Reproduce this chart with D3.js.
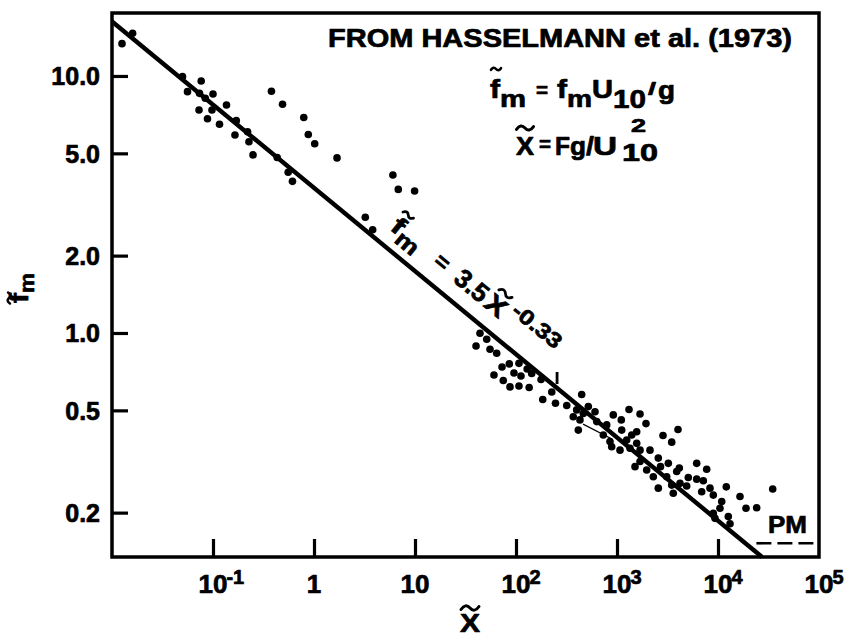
<!DOCTYPE html>
<html><head><meta charset="utf-8">
<script src="https://cdn.jsdelivr.net/npm/d3@7"></script>
<style>
body{margin:0;background:#fff;}
svg{display:block;}
text{font-family:"Liberation Sans",Arial,Helvetica,sans-serif;font-weight:bold;fill:#000;stroke:#000;stroke-width:0.7px;stroke-linejoin:round;}
</style></head><body>
<svg id="c" width="850" height="639"></svg>
<script>
// ---------------- data ----------------
const fetchX = [0.0160,0.01256,0.0499,0.0764,0.0559,0.0735,0.100,0.0839,0.136,0.0727,0.0977,0.0882,0.116,0.170,0.165,0.220,0.227,0.249,0.432,0.555,0.612,
 0.379,0.488,0.792,0.878,1.016,1.69,6.04,6.83,9.91,3.22,3.81,
 44.0,51.3,40.2,55.3,64.4,72.7,85.8,107,95.5,112,129,143,60.5,74.8,87.2,107,135,177,226,184,246,318,447,399,464,
 369,430,414,520,606,630,791,919,1103,1315,1690,1937,732,852,886,1113,1247,1398,1567,1071,1345,1567,1690,2122,1690,1508,1968,2564,2696,2854,3480,4018,3221,2288,2564,3480,3608,3105,3899,
 4139,6152,7727,5081,6152,7154,4206,4898,6896,8333,8985,12080,10880,10460,16510,18930,24150,34800,8985,9339,12650,13150];
const peakFreq = [14.66,13.36,9.94,9.56,8.69,8.56,8.51,8.19,7.71,7.37,7.37,6.82,6.49,6.70,5.89,6.07,5.55,4.93,4.82,4.22,3.89,
 8.72,7.76,6.89,5.92,5.45,4.80,4.12,3.62,3.57,2.82,2.52,
 0.997,0.945,0.890,0.864,0.834,0.737,0.758,0.762,0.699,0.680,0.724,0.696,0.686,0.653,0.617,0.622,0.614,0.659,0.589,0.551,0.533,0.522,0.576,0.502,0.486,
 0.472,0.459,0.419,0.517,0.494,0.452,0.439,0.480,0.459,0.504,0.484,0.444,0.401,0.378,0.361,0.419,0.383,0.401,0.413,0.350,0.356,0.372,0.350,0.350,0.316,0.302,0.293,0.326,0.302,0.399,0.376,0.421,0.311,0.276,0.249,0.256,0.238,0.276,0.289,
 0.298,0.311,0.295,0.274,0.270,0.266,0.260,0.254,0.241,0.249,0.234,0.252,0.221,0.208,0.231,0.208,0.209,0.247,0.199,0.190,0.193,0.181];
const fitLineX = [0.01, 27300];
const fitLineF = [16.3, 0.1344];
const pmLineX = [24000, 1e5];
const pmLineF = [0.152, 0.152];
const thinLineX = [461, 892];
const thinLineF = [0.442, 0.387];
const markX = [255, 255];
const markF = [0.705, 0.633];
const yTickValues = [0.2, 0.5, 1.0, 2.0, 5.0, 10.0];
const yTickLabels = ["0.2","0.5","1.0","2.0","5.0","10.0"];
const xTickValues = [0.1, 1, 10, 100, 1000, 10000];
const xLabelValues = [0.1, 1, 10, 100, 1000, 10000, 100000];
const xLabelBase = ["10","1","10","10","10","10","10"];
const xLabelExp  = ["-1","","","2","3","4","5"];
const titleText = "FROM HASSELMANN et al. (1973)";

// ---------------- chart ----------------
const svg = d3.select("#c");
const L=112, R=819, T=13, B=557;
const x = d3.scaleLog().domain([1e-2, 1e5]).range([L, R]);
const y = d3.scaleLog().domain([0.1344, 17.58]).range([B, T]);

function tilde(g, cx, cy, w, sw){
  const x0=cx-w/2, h=w*0.28;
  g.append("path")
   .attr("d",`M${x0},${cy+h*0.3} Q${x0+w*0.25},${cy-h} ${x0+w*0.5},${cy} T${x0+w},${cy-h*0.3}`)
   .attr("fill","none").attr("stroke","#000").attr("stroke-width",sw||2.8).attr("stroke-linecap","round");
}
function piece(g, px, py, str, size, w){
  const t=g.append("text").attr("x",px).attr("y",py).attr("font-size",size).text(str);
  if(w) t.attr("textLength",w).attr("lengthAdjust","spacingAndGlyphs");
  return t;
}

// frame
svg.append("rect").attr("x",L).attr("y",T).attr("width",R-L).attr("height",B-T)
  .attr("fill","none").attr("stroke","#000").attr("stroke-width",3.5);

// y axis
const yAxis = d3.axisLeft(y).tickValues(yTickValues).tickFormat((d,i)=>yTickLabels[i])
  .tickSize(-16).tickSizeOuter(0).tickPadding(12);
svg.append("g").attr("transform",`translate(${L},0)`).call(yAxis)
  .attr("font-family",null).attr("font-size",null)
  .call(g=>g.select(".domain").remove())
  .call(g=>g.selectAll(".tick line").attr("stroke","#000").attr("stroke-width",3.2))
  .call(g=>g.selectAll(".tick text").attr("font-size",25).attr("fill","#000").attr("dy","0.36em"));

// x axis (ticks)
const xAxis = d3.axisBottom(x).tickValues(xTickValues).tickFormat("").tickSize(-18).tickSizeOuter(0);
svg.append("g").attr("transform",`translate(0,${B})`).call(xAxis)
  .call(g=>g.select(".domain").remove())
  .call(g=>g.selectAll(".tick line").attr("stroke","#000").attr("stroke-width",3.2));

// x tick labels
const xl = svg.append("g");
xLabelValues.forEach((v,i)=>{
  const cx = x(v);
  const base = piece(xl, cx, 593, xLabelBase[i], 26).attr("text-anchor","middle");
  if(xLabelExp[i]){
    const bw = base.node().getComputedTextLength();
    piece(xl, cx+bw/2-1, 584, xLabelExp[i], 20);
  }
});

// data points
svg.append("g").selectAll("circle").data(fetchX.map((d,i)=>[d,peakFreq[i]])).join("circle")
  .attr("cx",d=>x(d[0])).attr("cy",d=>y(d[1])).attr("r",3.8).attr("fill","#000");

// fit line
const line = d3.line().x(d=>x(d[0])).y(d=>y(d[1]));
svg.append("path").attr("d",line(fitLineX.map((d,i)=>[d,fitLineF[i]])))
  .attr("fill","none").attr("stroke","#000").attr("stroke-width",4.4);
svg.append("path").attr("d",line(thinLineX.map((d,i)=>[d,thinLineF[i]])))
  .attr("fill","none").attr("stroke","#000").attr("stroke-width",1.2);
svg.append("path").attr("d",line(markX.map((d,i)=>[d,markF[i]])))
  .attr("fill","none").attr("stroke","#000").attr("stroke-width",2.8);
// PM line
svg.append("path").attr("d",line(pmLineX.map((d,i)=>[d,pmLineF[i]])))
  .attr("fill","none").attr("stroke","#000").attr("stroke-width",2.6).attr("stroke-dasharray","15,6");
piece(svg, 768, 533, "PM", 24, 39);

// title
piece(svg, 328, 47, titleText, 25, 464);

// formula 1
const f1 = svg.append("g");
piece(f1, 490, 98, "f", 25, 10); tilde(f1, 496, 69, 10, 2.6);
piece(f1, 500, 107, "m", 23, 26);
piece(f1, 536, 97, "=", 21, 12);
piece(f1, 557, 98, "f", 25, 10);
piece(f1, 567, 107, "m", 23, 25);
piece(f1, 592, 98, "U", 25, 21);
piece(f1, 613, 108, "10", 26, 33);
piece(f1, 648, 95, "/", 18, 8);
piece(f1, 658, 99, "g", 25, 17);

// formula 2
const f2 = svg.append("g");
tilde(f2, 525, 128, 17, 3);
piece(f2, 516, 155, "X", 25, 18);
piece(f2, 539, 151, "=", 21, 12);
piece(f2, 555, 155, "F", 25, 15);
piece(f2, 570, 155, "g", 25, 16);
piece(f2, 586, 155, "/", 25, 8);
piece(f2, 593, 155, "U", 25, 24);
piece(f2, 631, 132, "2", 19, 15);
piece(f2, 622, 161, "10", 24, 36);

// y axis label
const yl = svg.append("g").attr("transform","translate(28,303) rotate(-90)");
piece(yl, 0, 0, "f", 25, 10); tilde(yl, 5, -19, 11, 2.6);
piece(yl, 10, 6, "m", 21, 20);

// x axis label
const xlab = svg.append("g");
tilde(xlab, 470, 608, 18, 3);
piece(xlab, 460, 632, "X", 26, 20);

// annotation along line
const ang = 39.4;
const an = svg.append("g").attr("transform",`translate(389,229) rotate(${ang})`);
piece(an, 0, 0, "f", 25, 11); tilde(an, 6, -23, 12, 2.8);
piece(an, 11, 7, "m", 23, 24);
piece(an, 55, -1, "=", 22, 14);
piece(an, 82, 0, "3.5", 26, 36);
piece(an, 121, 0, "X", 26, 21); tilde(an, 131, -24, 15, 2.8);
piece(an, 147, -12, "-0.33", 21, 58);
</script>
</body></html>
